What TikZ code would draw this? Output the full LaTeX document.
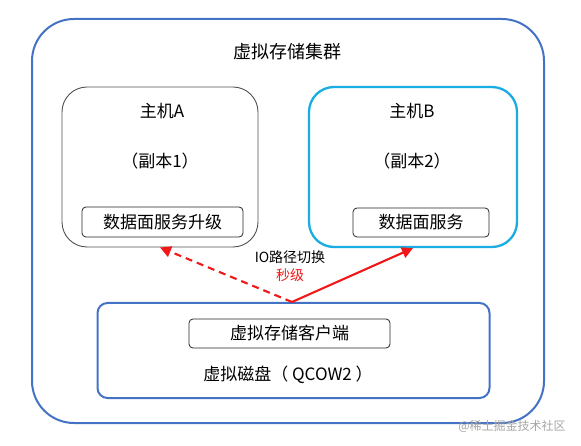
\documentclass[tikz,border=0pt]{standalone}
\usepackage{fontspec}
\setmainfont{Noto Sans CJK SC}
\usepackage{tikz}
\usetikzlibrary{arrows.meta, positioning, calc}
\definecolor{clusterc}{HTML}{4472C4}
\definecolor{hostbc}{HTML}{1AADE4}
\definecolor{hostac}{HTML}{505050}
\definecolor{ioc}{HTML}{F01818}
\newcommand{\bigtxt}{\fontsize{18pt}{21pt}\selectfont}
\newcommand{\midtxt}{\fontsize{17pt}{20pt}\selectfont}
\newcommand{\smalltxt}{\fontsize{14pt}{16pt}\selectfont}
\tikzset{
  framebox/.style={draw=clusterc, line width=2pt, inner sep=0pt},
  hostbox/.style={rounded corners=25pt, inner sep=0pt, minimum height=160pt},
  svcbox/.style={draw=black!85, line width=0.8pt, rounded corners=4pt,
    inner sep=0pt, font=\midtxt},
  iopath/.style={-{Triangle[length=11pt, width=11pt]}, ioc, line width=2.1pt},
}
\begin{document}
\begin{tikzpicture}[x=1pt, y=-1pt]
  \useasboundingbox[fill=white] (0,0) rectangle (581,446);
  % cluster and hosts
  \node[framebox, rounded corners=42pt, minimum width=512pt,
        minimum height=404pt] (cluster) at (288,221) {};
  \node[font=\bigtxt] (title) at (287,52) {虚拟存储集群};
  \node[hostbox, draw=hostac, line width=0.9pt, minimum width=196pt]
        (hostA) at (160,167) {};
  \node[hostbox, draw=hostbc, line width=2.3pt, minimum width=208pt]
        (hostB) at (413,167) {};
  \node[font=\midtxt] (nameA) at (162,111) {主机A};
  \node[font=\midtxt] (copyA) at (160,161) {（副本1）};
  \node[font=\midtxt] (nameB) at (412,111) {主机B};
  \node[font=\midtxt] (copyB) at (412,161) {（副本2）};
  \node[svcbox, minimum width=161pt, minimum height=30pt]
        (svcA) at (162.5,222) {数据面服务升级};
  \node[svcbox, minimum width=136pt, minimum height=29pt]
        (svcB) at (421,222.5) {数据面服务};
  % virtual disk
  \node[framebox, rounded corners=10pt, minimum width=392pt,
        minimum height=95pt] (disk) at (293.5,350.5) {};
  \node[svcbox, minimum width=201pt, minimum height=29pt]
        (client) at (289.5,333.5) {虚拟存储客户端};
  \node[font=\midtxt] (qcow) at (288,375) {虚拟磁盘（ QCOW2 ）};
  % io path switch
  \coordinate (apex) at ($(disk.north)+(-1.5,0)$);
  \draw[iopath, dash pattern=on 7pt off 5pt] (apex) -- (hostA.south);
  \draw[iopath] (apex) -- (hostB.south);
  \node[font=\smalltxt] (switch) at (290,257) {IO路径切换};
  \node[font=\smalltxt, ioc] (fast) at (290,275) {秒级};
  \node[font=\fontsize{12pt}{14pt}\selectfont, black!35] (mark) at (512,426)
        {@稀土掘金技术社区};
\end{tikzpicture}
\end{document}
